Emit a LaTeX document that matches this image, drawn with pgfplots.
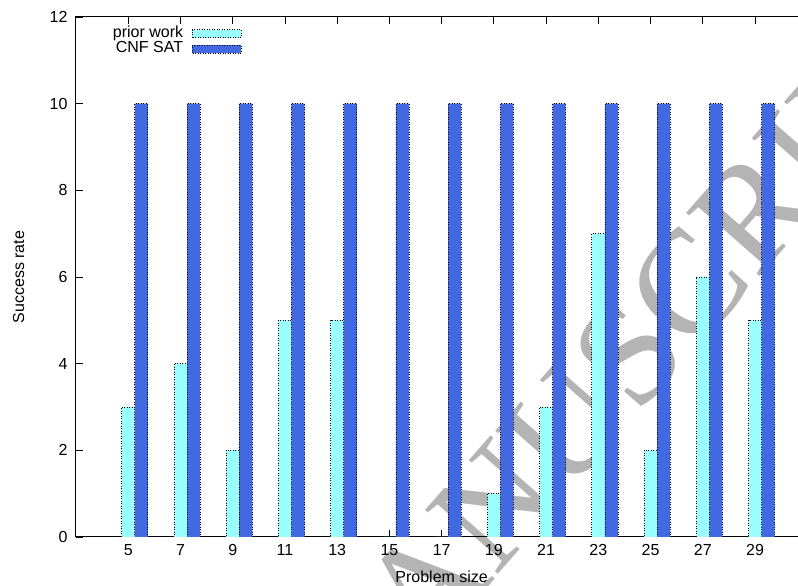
\documentclass[border=0pt]{standalone}
\usepackage{fontspec}
\setmainfont{Liberation Sans}
\newfontfamily\wmfont{Liberation Serif}
\usepackage{pgfplots}
\pgfplotsset{compat=1.18}

\definecolor{priorcyan}{HTML}{99FFFF}
\definecolor{satblue}{HTML}{4169E1}
\definecolor{wmgray}{HTML}{B4B4B4}

% legend key: a flat horizontal box in the bar's own style
\pgfplotsset{barkey/.style={legend image code/.code={\draw[##1] (0pt,-4pt) rectangle (49pt,4pt);}}}

\begin{document}
\begin{tikzpicture}[font=\fontsize{16}{19}\selectfont]
% watermark, behind the plot
\node[rotate=48.7, anchor=base east, text=wmgray, inner sep=0pt,
      font=\wmfont\fontsize{148}{148}\selectfont] at (561pt,120pt) {ACCEPTED MANU};
\node[rotate=48.7, anchor=base west, text=wmgray, inner sep=0pt,
      font=\wmfont\fontsize{148}{148}\selectfont] at (561pt,120pt) {SCRIPT};

\begin{axis}[
  at={(0pt,0pt)}, anchor=south west,
  scale only axis, width=731.3pt, height=520pt,
  xmin=3, xmax=31, ymin=0, ymax=12,
  xtick={5,7,...,29}, ytick={0,2,...,12},
  tick align=inside, major tick length=7pt,
  tick style={black, line width=0.8pt},
  axis line style={line width=1pt},
  /pgf/number format/assume math mode=true,
  xticklabel style={yshift=-4pt},
  yticklabel style={xshift=-5pt},
  xlabel={Problem size}, ylabel={Success rate},
  every axis x label/.style={at={(axis description cs:0.5,-0.0769)}, anchor=center},
  every axis y label/.style={at={(axis description cs:-0.0786,0.5)}, rotate=90, anchor=center},
  legend style={draw=none, fill=none, at={(axis description cs:0.227,0.983)}, anchor=north east,
    inner sep=0pt, column sep=9pt,
    nodes={inner sep=0pt, text height=11pt, text depth=4.5pt}},
  legend cell align=right,
  legend plot pos=right,
]
\addplot[ybar, bar width=0.5, bar shift=0, fill=priorcyan, draw=black,
  dash pattern=on 1pt off 1.5pt, line width=0.7pt, barkey]
  coordinates {(5,3) (7,4) (9,2) (11,5) (13,5) (15,0) (17,0) (19,1) (21,3) (23,7) (25,2) (27,6) (29,5)};
\addlegendentry{prior work}
\addplot[ybar, bar width=0.5, bar shift=0.5, fill=satblue, draw=black,
  dash pattern=on 1pt off 1.5pt, line width=0.7pt, barkey]
  coordinates {(5,10) (7,10) (9,10) (11,10) (13,10) (15,10) (17,10) (19,10) (21,10) (23,10) (25,10) (27,10) (29,10)};
\addlegendentry{CNF SAT}
\end{axis}
\pgfresetboundingbox
\useasboundingbox (-76pt,-49pt) rectangle (722pt,537pt);
\end{tikzpicture}
\end{document}
